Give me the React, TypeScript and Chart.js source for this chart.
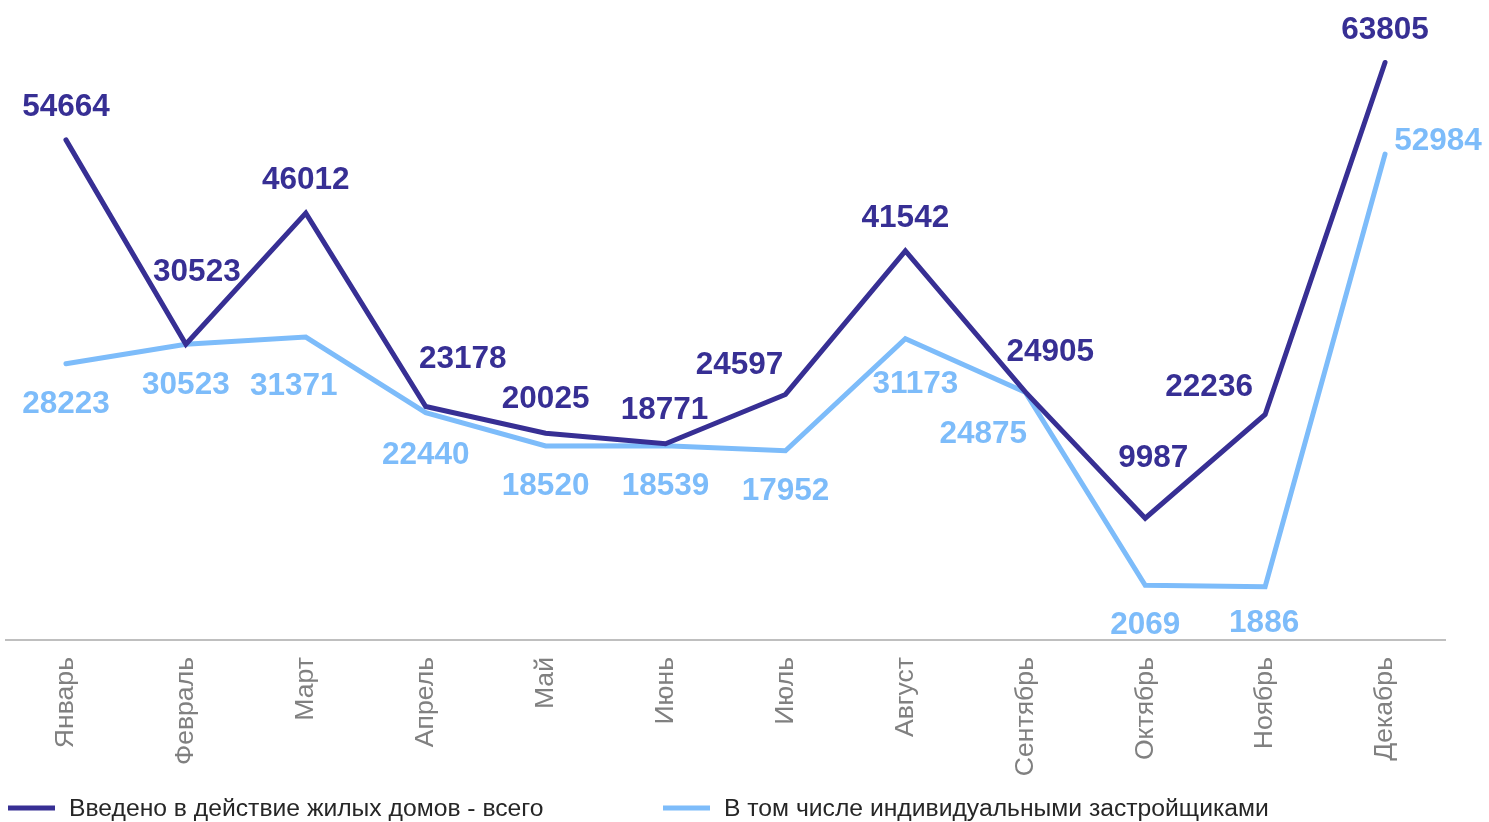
import React, { useEffect, useRef } from "react";
import { Chart, registerables } from "chart.js";

Chart.register(...registerables);

const months = ["Январь", "Февраль", "Март", "Апрель", "Май", "Июнь", "Июль", "Август", "Сентябрь", "Октябрь", "Ноябрь", "Декабрь"];
const totalHousing = [54664, 30523, 46012, 23178, 20025, 18771, 24597, 41542, 24905, 9987, 22236, 63805];
const individualHousing = [28223, 30523, 31371, 22440, 18520, 18539, 17952, 31173, 24875, 2069, 1886, 52984];
const seriesNames = ["Введено в действие жилых домов - всего", "В том числе индивидуальными застройщиками"];

const DARK = "#372F94";
const LIGHT = "#7DBCFA";
const FONT = 'Arial, "Liberation Sans", sans-serif';

// label offsets relative to each point (pixels)
const labelOffsets = [
  [[0, -35], [11, -74], [0, -35], [37, -50], [0, -36], [-1, -36], [-46, -32], [0, -35], [25, -42], [8, -62], [-56, -30], [0, -35]],
  [[0, 38], [0, 39], [-12, 47], [0, 40], [0, 38], [0, 38], [0, 38], [10, 43], [-42, 40], [0, 38], [-1, 34], [53, -15]],
];

const labelsPlugin = {
  id: "pointLabels",
  afterDatasetsDraw(chart: any) {
    const ctx = chart.ctx;
    ctx.save();
    ctx.font = `bold 31.5px ${FONT}`;
    ctx.textAlign = "center";
    ctx.textBaseline = "middle";
    chart.data.datasets.forEach((ds: any, di: number) => {
      const meta = chart.getDatasetMeta(di);
      ctx.fillStyle = ds.borderColor;
      meta.data.forEach((pt: any, i: number) => {
        const off = labelOffsets[di][i];
        ctx.fillText(String(ds.data[i]), pt.x + off[0], pt.y + off[1] + 2.5);
      });
    });
    ctx.restore();
  },
};

const legendPlugin = {
  id: "customLegend",
  afterDraw(chart: any) {
    const ctx = chart.ctx;
    const y = chart.height - 14;
    const starts = [8, 663];
    ctx.save();
    ctx.font = `24.7px ${FONT}`;
    ctx.textBaseline = "middle";
    ctx.textAlign = "left";
    chart.data.datasets.forEach((ds: any, di: number) => {
      const x = starts[di];
      ctx.fillStyle = ds.borderColor;
      ctx.fillRect(x, y - 2.5, 47, 5);
      ctx.fillStyle = "#262626";
      ctx.fillText(ds.label, x + 61, y + 1.5);
    });
    ctx.restore();
  },
};

export default function App() {
  const ref = useRef<HTMLCanvasElement>(null);
  useEffect(() => {
    if (!ref.current) return;
    const chart = new Chart(ref.current, {
      type: "line",
      data: {
        labels: months,
        datasets: [
          { label: seriesNames[0], data: totalHousing, borderColor: DARK, backgroundColor: DARK, borderWidth: 5, pointRadius: 0, borderCapStyle: "round", borderJoinStyle: "miter", tension: 0 },
          { label: seriesNames[1], data: individualHousing, borderColor: LIGHT, backgroundColor: LIGHT, borderWidth: 5, pointRadius: 0, borderCapStyle: "round", borderJoinStyle: "miter", tension: 0 },
        ],
      },
      options: {
        animation: false,
        responsive: false,
        layout: { padding: { left: 6, right: 44, top: 10, bottom: 42 } },
        plugins: { legend: { display: false }, tooltip: { enabled: false } },
        scales: {
          x: {
            offset: true,
            grid: { display: false, drawTicks: false },
            border: { display: true, color: "#BFBFBF", width: 2 },
            ticks: { color: "#808080", font: { family: FONT, size: 26.6 }, minRotation: 90, maxRotation: 90, padding: 17, autoSkip: false },
            afterFit: (scale: any) => { scale.height = 140; },
          },
          y: { display: false, min: -4400, max: 70000 },
        },
      },
      plugins: [labelsPlugin, legendPlugin],
    });
    return () => chart.destroy();
  }, []);
  return (
    <div style={{ position: "absolute", left: 0, top: 0, width: 1489, height: 822, background: "#fff" }}>
      <canvas ref={ref} width={1489} height={822} style={{ display: "block" }} />
    </div>
  );
}
